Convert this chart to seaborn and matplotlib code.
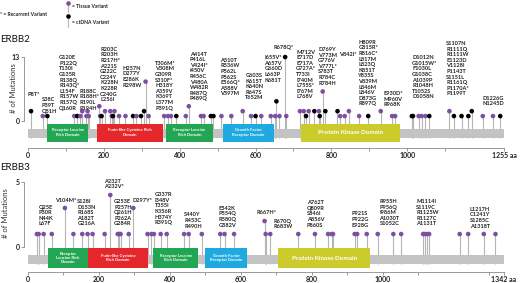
import matplotlib
matplotlib.use('Agg')
import matplotlib.pyplot as plt
import numpy as np
import pandas as pd
import seaborn as sns
from matplotlib.patches import Rectangle

sns.set_style('ticks')
plt.rcParams['font.family'] = ['Lato', 'DejaVu Sans']

PURPLE = '#7b4fa2'
STEM = '#b5b5b5'
TRACK = '#c3c3c3'
GREEN = '#22a653'
RED = '#e5262a'
BLUE = '#1fa9e1'
YELLOW = '#cbcb2c'

# ---------------- ERBB2 ----------------
erbb2_len = 1255
erbb2_pos = [8, 39, 51, 122, 130, 138, 143, 154, 157, 160, 188, 190, 194, 203, 217, 221, 224, 228,
             240, 257, 277, 286, 298, 306, 310, 318, 359, 369, 377, 391, 416, 424, 456, 463, 482,
             489, 510, 536, 566, 588, 600, 615, 640, 652, 655, 663, 678, 681, 717, 727, 733, 740,
             755, 767, 769, 777, 784, 816, 823, 835, 846, 873, 897, 930, 960, 968, 1012, 1015, 1030,
             1038, 1048, 1058, 1111, 1123, 1143, 1161, 1170, 1199, 1226, 1245]
erbb2_count = [2, 1, 1, 1, 1, 1, 2, 1, 2, 1, 3, 1, 1, 2, 2, 1, 1, 2,
               1, 1, 1, 1, 1, 2, 8, 1, 1, 1, 1, 1, 1, 3, 1, 1, 1,
               1, 1, 1, 2, 1, 1, 1, 1, 1, 4, 1, 13, 1, 2, 2, 1, 2,
               2, 2, 1, 6, 2, 2, 1, 1, 2, 1, 1, 2, 1, 1, 1, 1, 1,
               1, 1, 1, 2, 1, 1, 1, 2, 1, 1, 1]
erbb2_source = ['ctDNA', 'Tissue', 'ctDNA', 'Tissue', 'ctDNA', 'Tissue', 'Tissue', 'Tissue', 'Tissue',
                'Tissue', 'Tissue', 'Tissue', 'ctDNA', 'Tissue', 'Tissue', 'Tissue', 'ctDNA', 'Tissue',
                'Tissue', 'Tissue', 'ctDNA', 'Tissue', 'ctDNA', 'ctDNA', 'Tissue', 'Tissue', 'Tissue',
                'Tissue', 'Tissue', 'ctDNA', 'Tissue', 'Tissue', 'Tissue', 'Tissue', 'ctDNA',
                'ctDNA', 'Tissue', 'Tissue', 'Tissue', 'Tissue', 'ctDNA', 'Tissue', 'Tissue', 'Tissue',
                'ctDNA', 'Tissue', 'ctDNA', 'Tissue', 'Tissue', 'Tissue', 'ctDNA', 'Tissue',
                'ctDNA', 'Tissue', 'ctDNA', 'Tissue', 'ctDNA', 'ctDNA', 'Tissue', 'Tissue', 'Tissue',
                'Tissue', 'ctDNA', 'Tissue', 'Tissue', 'Tissue', 'ctDNA', 'ctDNA', 'Tissue',
                'Tissue', 'Tissue', 'ctDNA', 'Tissue', 'ctDNA', 'ctDNA', 'ctDNA', 'ctDNA', 'Tissue',
                'Tissue', 'ctDNA']

erbb2_dom_names = ['Receptor Leucine\nRich Domain', 'Furin-like Cysteine Rich\nDomain',
                   'Receptor Leucine\nRich Domain', 'Growth Factor\nReceptor Domain',
                   'Protein Kinase Domain']
erbb2_dom_start = [50, 181, 363, 514, 720]
erbb2_dom_end = [159, 355, 489, 649, 980]

erbb2_labels = ['P8T*', 'S38C\nP39T\nQ51H',
                'G120E\nP122Q\nT130I\nG135R\nR138Q\nR143Q*\nL154F\nR157W\nR157Q\nQ160R',
                'R188C\nR188H*\nR190L\nP194H',
                'R203C\nR203H\nR217H*\nA221S\nG222C\nC224Y\nK228N\nK228R\nC240G\nL256I',
                'H257N\nD277Y\nE286K\nR298W',
                'T306M*\nV308M\nG309R\nS310F*\nH318Y\nA359V\nK369T\nL377M\nP391Q',
                'A414T\nP416L\nV424I*\nI450V\nR456C\nV480A\nW482R\nR487Q\nP489Q',
                'A510T\nR536W\nP562L\nP562S\nE566Q*\nA588V\nV597M',
                'G603S\nK615T\nK640N\nR647S\nT652M',
                'I655V*\nA657V\nG660D\nL663P\nK681T',
                'R678Q*',
                'M712V\nE717D\nE717A\nG727A*\nT733I\nI740M\nL755S*\nI767M\nL768V',
                'D769Y\nV773M\nG776V\nV777L*\nS783T\nR784C\nR784H',
                'V842I*',
                'H809R\nG815R*\nR816C*\nL817M\nL823Q\nK851T\nY835S\nV839M\nL846M\nL846V\nD873G\nR897Q',
                'E930D*\nM960V\nR968K',
                'D1012N\nG1015W*\nF1030L\nG1038C\nA1039P\nR1048H\nT1052S\nD1058N',
                'S1107N\nR1111Q\nR1111W\nE1123D\nV1128I\nP1143T\nS1151L\nR1161Q\nP1170A*\nP1199T',
                'D1226G\nN1245D']
erbb2_label_x = [-1, 36, 82, 137, 190, 250, 335, 427, 507, 573, 623, 646, 707, 765, 821, 871, 937,
                 1013, 1103, 1198]
erbb2_label_y = [4.8, 1.5, 2.1, 2.1, 3.8, 6.8, 2.1, 4.0, 5.0, 4.2, 7.8, 14.5, 4.4, 7.2, 13.1, 2.95,
                 2.75, 4.4, 5.0, 2.95]

# ---------------- ERBB3 ----------------
erbb3_len = 1342
erbb3_pos = [25, 30, 44, 67, 104, 128, 153, 168, 182, 216, 232, 253, 257, 261, 284, 297, 337, 348,
             355, 374, 391, 440, 453, 490, 542, 554, 581, 667, 670, 683, 762, 809, 846, 856, 860,
             921, 928, 955, 986, 1030, 1052, 1114, 1119, 1125, 1131, 1217, 1241, 1285, 1318]
erbb3_count = [1, 1, 1, 1, 3, 1, 1, 1, 1, 1, 4, 1, 1, 1, 1, 3, 1, 1,
               1, 1, 1, 1, 1, 1, 1, 1, 1, 2, 1, 1, 1, 1, 1, 1, 1,
               1, 1, 1, 1, 1, 1, 1, 1, 1, 1, 1, 1, 1, 1]
erbb3_source = ['Tissue'] * len(erbb3_pos)

erbb3_dom_names = ['Receptor\nLeucine Rich\nDomain', 'Furin-like Cysteine\nRich Domain',
                   'Receptor Leucine\nRich Domain', 'Growth Factor\nReceptor Domain',
                   'Protein Kinase Domain']
erbb3_dom_start = [55, 170, 353, 500, 705]
erbb3_dom_end = [170, 337, 480, 618, 965]

erbb3_labels = ['Q25E\nP30R\nN44K\nL67F', 'V104M*', 'S128I\nD153N\nR168S\nA182T\nG216A',
                'A232T\nA232V*', 'G253E\nP257H\nQ261H\nP262A\nG284R', 'D297Y*',
                'G337R\nI348V\nT355I\nK356R\nH374Y\nR391Q', 'S440Y\nR453C\nR490H',
                'E542K\nP554Q\nR580Q\nG582V', 'R667H*', 'R670Q\nR683W',
                'A762T\nQ809R\nS846I\nA856V\nP860S', 'P921S\nP922G\nE928G',
                'R955H\nP956Q\nI986M\nA1030T\nS1052C', 'M1114I\nS1119C\nR1125W\nR1127C\nA1131T',
                'L1217H\nC1241Y\nS1285C\nA1318T']
erbb3_label_x = [29, 76, 139, 214, 243, 295, 358, 440, 537, 643, 692, 786, 913, 991, 1094, 1245]
erbb3_label_y = [1.58, 3.35, 1.58, 4.45, 1.58, 3.35, 1.68, 1.42, 1.5, 2.45, 1.35, 1.5, 1.5, 1.58,
                 1.58, 1.42]

W, H = 520, 283
fig = plt.figure(figsize=(W / 100, H / 100), dpi=100)


def px_axes(left, top, right, bottom):
    return fig.add_axes([left / W, 1 - bottom / H, (right - left) / W, (bottom - top) / H])


# overlay for legend and gene names
ov = px_axes(0, 0, W, H)
ov.set_xlim(0, W)
ov.set_ylim(H, 0)
ov.axis('off')
ov.plot([68, 68], [3, 12], color=STEM, lw=0.8, zorder=1)
ov.scatter([68], [3], s=11, color=PURPLE, lw=0, zorder=2)
ov.plot([68, 68], [16, 27], color=STEM, lw=0.8, zorder=1)
ov.scatter([68], [16], s=11, color='black', lw=0, zorder=2)
ov.text(72, 6, '= Tissue Variant', fontsize=3.6, fontweight='bold', va='center', color='#222222')
ov.text(72, 23, '= ctDNA Variant', fontsize=3.6, fontweight='bold', va='center', color='#222222')
ov.text(0.5, 15, '* = Recurrent Variant', fontsize=3.6, fontweight='bold', va='center', color='#222222')
ov.text(0.5, 40, 'ERBB2', fontsize=7, va='center', ha='left', color='#111111')
ov.text(0.5, 167, 'ERBB3', fontsize=7, va='center', ha='left', color='#111111')


def draw_gene(ax, df, length, ylim, ymax, track_y, box_y, doms, blocks, ylab_xy):
    ax.set_xlim(0, length)
    ax.set_ylim(*ylim)
    ax.vlines(df['pos'], track_y[0], df['count'], color=STEM, lw=0.8, zorder=1)
    ax.add_patch(Rectangle((0, track_y[0]), length, track_y[1] - track_y[0],
                           fc=TRACK, ec='none', zorder=2))
    colors = [GREEN, RED, GREEN, BLUE, YELLOW]
    for (name, s, e), c in zip(doms, colors):
        ax.add_patch(Rectangle((s, box_y[0]), e - s, box_y[1] - box_y[0], fc=c, ec='none', zorder=3))
        fs = 4.6 if 'Kinase' in name else 3.0
        ax.text((s + e) / 2, sum(box_y) / 2, name, ha='center', va='center', color='white',
                fontsize=fs, fontweight='bold', linespacing=1.1, zorder=4)
    sns.scatterplot(data=df, x='pos', y='count', hue='source',
                    palette={'Tissue': PURPLE, 'ctDNA': 'black'}, s=11, linewidth=0,
                    legend=False, ax=ax, zorder=5)
    for txt, x, y in blocks:
        ax.text(x, y, txt, ha='left', va='bottom', fontsize=4.1, fontweight='bold',
                color='#222222', linespacing=1.15, zorder=6)

    sns.despine(ax=ax)
    ax.spines['left'].set_bounds(0, ymax)
    ax.spines['left'].set_position(('outward', 3))
    ax.spines['bottom'].set_bounds(0, length)
    for sp in ('left', 'bottom'):
        ax.spines[sp].set_color('#8a8a8a')
        ax.spines[sp].set_linewidth(0.6)
    major = list(range(0, 1001, 200)) + [length]
    ax.set_xticks(major, [str(v) for v in major[:-1]] + [f'{length} aa'])
    ax.set_xticks(list(range(100, length, 200)), minor=True)
    ax.set_yticks([0, ymax], [str(0), str(ymax)])
    ax.tick_params(axis='both', which='both', length=2, width=0.6, color='#8a8a8a',
                   labelsize=5, pad=1, labelcolor='#222222')
    for lab in ax.get_xticklabels() + ax.get_yticklabels():
        lab.set_fontweight('bold')
    ax.set_xlabel('')
    ax.set_ylabel('# of Mutations', fontsize=5.5, color='#333333')
    ax.yaxis.set_label_coords(*ylab_xy)
    ax.patch.set_alpha(0)


df2 = pd.DataFrame({'pos': erbb2_pos, 'count': erbb2_count, 'source': erbb2_source})
df3 = pd.DataFrame({'pos': erbb3_pos, 'count': erbb3_count, 'source': erbb3_source})

ax2 = px_axes(28, 20, 504, 148)
draw_gene(ax2, df2, erbb2_len, (-5.49, 20.53), 13, (-3.46, -1.63), (-4.17, -0.51),
          list(zip(erbb2_dom_names, erbb2_dom_start, erbb2_dom_end)),
          list(zip(erbb2_labels, erbb2_label_x, erbb2_label_y)), (-0.023, 0.47))

ax3 = px_axes(28, 160, 504, 271.5)
draw_gene(ax3, df3, erbb3_len, (-1.88, 6.69), 5, (-1.27, -0.58), (-1.62, -0.08),
          list(zip(erbb3_dom_names, erbb3_dom_start, erbb3_dom_end)),
          list(zip(erbb3_labels, erbb3_label_x, erbb3_label_y)), (-0.04, 0.52))

fig.savefig('out.png', dpi=100)
